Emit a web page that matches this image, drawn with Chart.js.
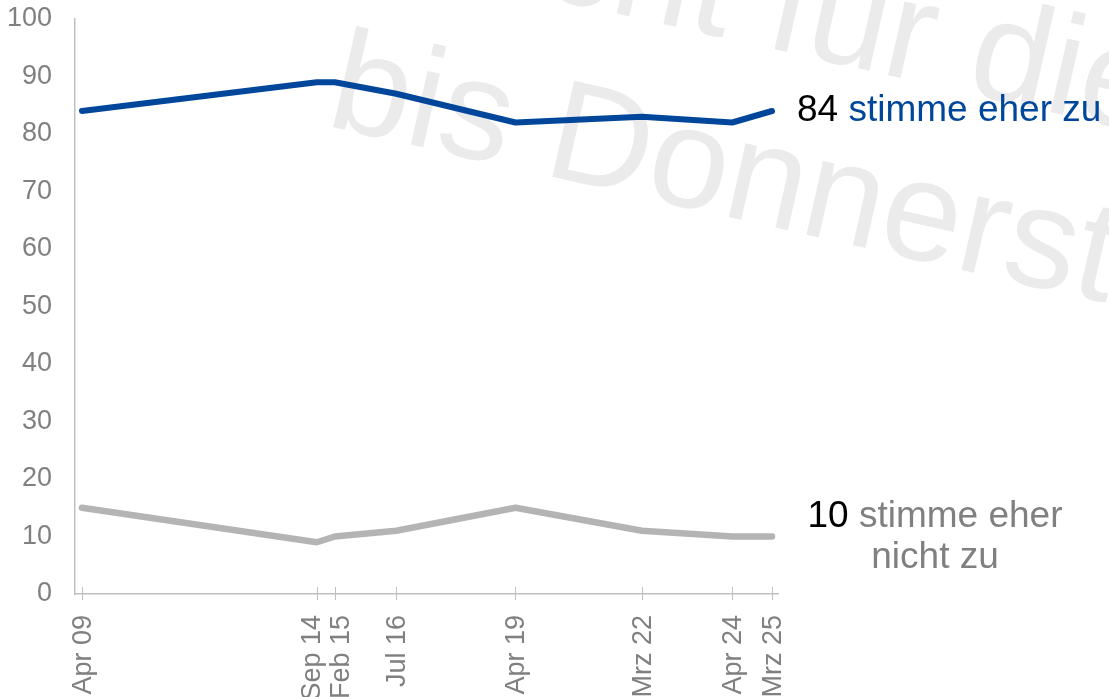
<!DOCTYPE html>
<html>
<head>
<meta charset="utf-8">
<script src="https://cdn.jsdelivr.net/npm/chart.js@4.4.1/dist/chart.umd.min.js"></script>
<style>
  html, body { margin: 0; background: #fff; }
  #wrap { width: 1109px; height: 697px; }
</style>
</head>
<body>
<div id="wrap"><canvas id="trendChart"></canvas></div>
<script>
// survey waves as decimal years (month/12), so spacing follows time
const waveDates = [2009.25, 2014.667, 2015.083, 2016.5, 2019.25, 2022.167, 2024.25, 2025.167];
const waveLabels = ['Apr 09', 'Sep 14', 'Feb 15', 'Jul 16', 'Apr 19', 'Mrz 22', 'Apr 24', 'Mrz 25'];
const agreeValues = [84, 89, 89, 87, 82, 83, 82, 84];
const disagreeValues = [15, 9, 10, 11, 15, 11, 10, 10];
const agreeLabel = 'stimme eher zu';
const disagreeLabel = ['stimme eher', 'nicht zu'];

const BLUE = '#00479c';
const GREY_LINE = '#b4b4b4';
const GREY_TEXT = '#808080';
const AXIS = '#bfbfbf';
const FONT = '"Liberation Sans", Arial, sans-serif';
// Sep 14 / Feb 15 sit too close, their labels get pushed apart a bit
const labelNudge = { 'Sep 14': -6, 'Feb 15': 5 };

// light watermark behind the chart
const watermark = {
  id: 'watermark',
  beforeDraw(chart) {
    const ctx = chart.ctx;
    ctx.save();
    ctx.translate(324, 125);
    ctx.rotate(0.2234);
    ctx.font = '143px ' + FONT;
    ctx.fillStyle = '#ebebeb';
    ctx.textBaseline = 'alphabetic';
    ctx.fillText('bis Donnerstag', 0, 0);
    const lead = ctx.measureText('Nicht ').width;
    ctx.fillText('Nicht für die Veröffentlichung', 410 - lead, -173.6);
    ctx.restore();
  }
};

// tick marks crossing the x axis, rotated date labels, end labels
const overlay = {
  id: 'overlay',
  afterDraw(chart) {
    const { ctx, scales: { x, y } } = chart;
    ctx.save();
    ctx.strokeStyle = AXIS;
    ctx.lineWidth = 1;
    const y0 = y.getPixelForValue(0);
    ctx.font = '27px ' + FONT;
    waveDates.forEach((d, i) => {
      const px = Math.round(x.getPixelForValue(d)) + 0.5;
      ctx.beginPath();
      ctx.moveTo(px, y0 - 7);
      ctx.lineTo(px, y0 + 6);
      ctx.stroke();

      ctx.save();
      ctx.translate(px + (labelNudge[waveLabels[i]] || 0), y0 + 21);
      ctx.rotate(-Math.PI / 2);
      ctx.fillStyle = GREY_TEXT;
      ctx.textAlign = 'right';
      ctx.textBaseline = 'middle';
      ctx.fillText(waveLabels[i], 0, 1);
      ctx.restore();
    });

    const last = waveDates.length - 1;
    const xEnd = x.getPixelForValue(waveDates[last]);
    ctx.font = '37px ' + FONT;
    ctx.textBaseline = 'middle';
    ctx.textAlign = 'left';

    // top series label
    const aVal = String(agreeValues[last]);
    const ay = y.getPixelForValue(agreeValues[last]);
    ctx.fillStyle = '#000';
    ctx.fillText(aVal, xEnd + 25, ay);
    ctx.fillStyle = BLUE;
    ctx.fillText(' ' + agreeLabel, xEnd + 25 + ctx.measureText(aVal).width, ay);

    // bottom series label, two centred lines
    const dVal = String(disagreeValues[last]);
    const dy = y.getPixelForValue(disagreeValues[last]) - 20;
    const cx = xEnd + 163;
    const w1 = ctx.measureText(dVal + ' ' + disagreeLabel[0]).width;
    const x1 = cx - w1 / 2;
    ctx.fillStyle = '#000';
    ctx.fillText(dVal, x1, dy);
    ctx.fillStyle = GREY_TEXT;
    ctx.fillText(' ' + disagreeLabel[0], x1 + ctx.measureText(dVal).width, dy);
    ctx.textAlign = 'center';
    ctx.fillText(disagreeLabel[1], cx, dy + 41);
    ctx.restore();
  }
};

new Chart(document.getElementById('trendChart'), {
  type: 'line',
  data: {
    datasets: [
      {
        label: agreeLabel,
        data: waveDates.map((d, i) => ({ x: d, y: agreeValues[i] })),
        borderColor: BLUE,
        borderWidth: 6,
        borderCapStyle: 'round',
        borderJoinStyle: 'round',
        pointRadius: 0,
        tension: 0
      },
      {
        label: disagreeLabel.join(' '),
        data: waveDates.map((d, i) => ({ x: d, y: disagreeValues[i] })),
        borderColor: GREY_LINE,
        borderWidth: 6.5,
        borderCapStyle: 'round',
        borderJoinStyle: 'round',
        pointRadius: 0,
        tension: 0
      }
    ]
  },
  options: {
    responsive: true,
    maintainAspectRatio: false,
    animation: false,
    layout: { padding: { top: 0, right: 331, bottom: 0, left: 0 } },
    plugins: { legend: { display: false }, tooltip: { enabled: false } },
    scales: {
      x: {
        type: 'linear',
        min: 2009.09,
        max: 2025.305,
        afterBuildTicks: scale => { scale.ticks = waveDates.map(v => ({ value: v })); },
        afterFit: scale => { scale.height = 103; },
        grid: { display: false, drawTicks: false },
        border: { display: true, color: AXIS, width: 1.5 },
        ticks: { display: false }
      },
      y: {
        min: 0,
        max: 100,
        afterFit: scale => {
          scale.width = 75;
          scale.paddingTop = 19;
          scale.paddingBottom = 0;
        },
        grid: { display: false, drawTicks: false },
        border: { display: true, color: AXIS, width: 1.5 },
        ticks: {
          stepSize: 10,
          padding: 23,
          color: GREY_TEXT,
          font: { family: FONT, size: 27 }
        }
      }
    }
  },
  plugins: [watermark, overlay]
});
</script>
</body>
</html>
